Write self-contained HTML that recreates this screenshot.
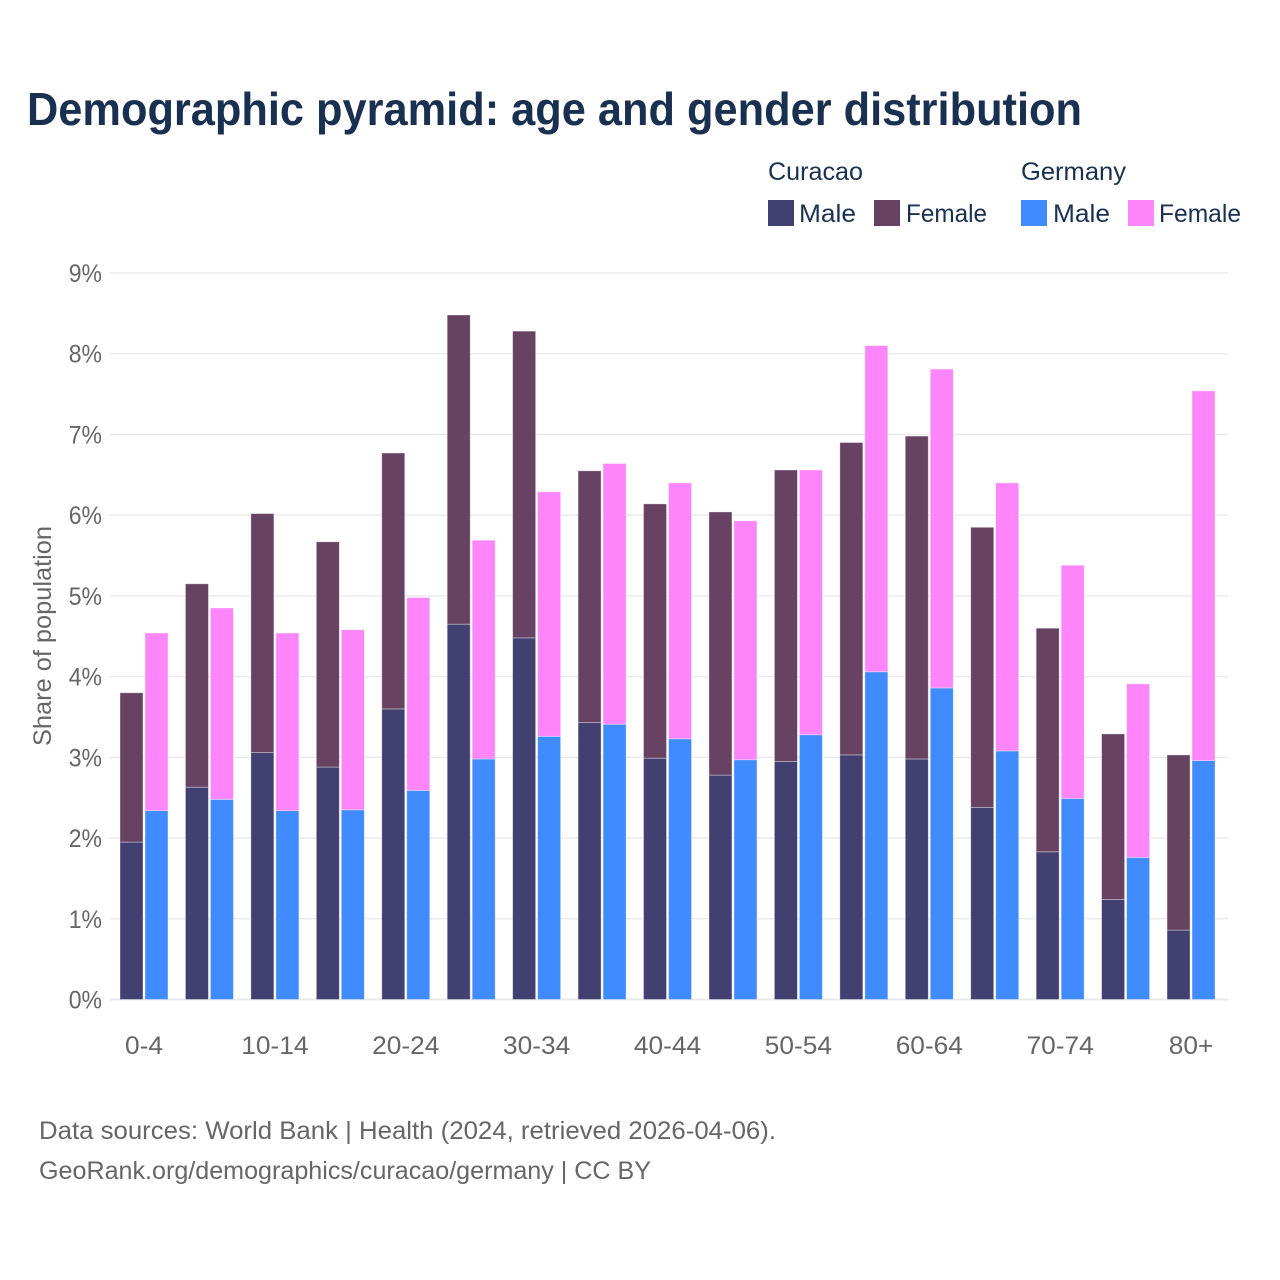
<!DOCTYPE html>
<html lang="en">
<head>
<meta charset="utf-8">
<title>Demographic pyramid</title>
<style>
html,body{margin:0;padding:0;background:#fff;}
svg{display:block;font-family:"Liberation Sans",sans-serif;}
.ink{fill:#1a3050;font-size:25px;}
.muted{fill:#666;font-size:25px;}
</style>
</head>
<body>
<svg id="chart" width="1280" height="1280" viewBox="0 0 1280 1280" xmlns="http://www.w3.org/2000/svg">
  <rect x="0" y="0" width="1280" height="1280" fill="#fff"/>
  <text x="27" y="125" font-size="46" font-weight="700" fill="#1a3050" textLength="1055" lengthAdjust="spacingAndGlyphs">Demographic pyramid: age and gender distribution</text>

  <g>
    <text class="ink" x="768" y="180" textLength="95" lengthAdjust="spacingAndGlyphs">Curacao</text>
    <text class="ink" x="1021" y="180" textLength="105" lengthAdjust="spacingAndGlyphs">Germany</text>
    <rect x="768" y="200" width="26" height="26" fill="#414070"/>
    <text class="ink" x="799" y="222" textLength="57" lengthAdjust="spacingAndGlyphs">Male</text>
    <rect x="874" y="200" width="26" height="26" fill="#674263"/>
    <text class="ink" x="906" y="222" textLength="81" lengthAdjust="spacingAndGlyphs">Female</text>
    <rect x="1021" y="200" width="26" height="26" fill="#408bff"/>
    <text class="ink" x="1053" y="222" textLength="57" lengthAdjust="spacingAndGlyphs">Male</text>
    <rect x="1128" y="200" width="26" height="26" fill="#ff85fa"/>
    <text class="ink" x="1159" y="222" textLength="82" lengthAdjust="spacingAndGlyphs">Female</text>
  </g>

  <g id="grid"></g>
  <g id="bars"></g>
  <g id="yticks"></g>
  <g id="xticks"></g>

  <text class="muted" transform="translate(51,636) rotate(-90)" text-anchor="middle" textLength="220" lengthAdjust="spacingAndGlyphs">Share of population</text>

  <text class="muted" x="39" y="1139" textLength="737" lengthAdjust="spacingAndGlyphs">Data sources: World Bank | Health (2024, retrieved 2026-04-06).</text>
  <text class="muted" x="39" y="1179" textLength="612" lengthAdjust="spacingAndGlyphs">GeoRank.org/demographics/curacao/germany | CC BY</text>
</svg>
<script>
const categories = ["0-4","5-9","10-14","15-19","20-24","25-29","30-34","35-39","40-44","45-49","50-54","55-59","60-64","65-69","70-74","75-79","80+"];
const curacaoMale = [1.95,2.63,3.06,2.88,3.60,4.65,4.48,3.43,2.99,2.78,2.95,3.03,2.98,2.38,1.83,1.24,0.86];
const curacaoFemale = [1.85,2.52,2.96,2.79,3.17,3.83,3.80,3.12,3.15,3.26,3.61,3.87,4.00,3.47,2.77,2.05,2.17];
const germanyMale = [2.34,2.48,2.34,2.35,2.59,2.98,3.26,3.41,3.23,2.97,3.28,4.06,3.86,3.08,2.49,1.76,2.96];
const germanyFemale = [2.20,2.37,2.20,2.23,2.39,2.71,3.03,3.23,3.17,2.96,3.28,4.04,3.95,3.32,2.89,2.15,4.58];
const yTickValues = [0,1,2,3,4,5,6,7,8,9];

const NS = "http://www.w3.org/2000/svg";
const plotLeft = 110, plotRight = 1228;
const yZero = 999.5, pxPerUnit = 80.72;
const groupStart = 144, groupStep = 65.44, barWidth = 23;

function yScale(v) { return yZero - v * pxPerUnit; }
function xCenter(i) { return groupStart + i * groupStep; }

function make(tag, attrs, parent) {
  const el = document.createElementNS(NS, tag);
  for (const k in attrs) el.setAttribute(k, attrs[k]);
  parent.appendChild(el);
  return el;
}

const gridG = document.getElementById("grid");
const barsG = document.getElementById("bars");
const yG = document.getElementById("yticks");
const xG = document.getElementById("xticks");

yTickValues.forEach(function (v) {
  const line = make("line", {x1: plotLeft, x2: plotRight, y1: yScale(v), y2: yScale(v), stroke: "#e9e9e9", "stroke-width": v === 0 ? 2 : 1.3}, gridG);
  
  
  const label = make("text", {x: 102, y: yScale(v) + 9, "text-anchor": "end", class: "muted"}, yG);
  
  
  label.textContent = v + "%";
  label.setAttribute("textLength", label.getComputedTextLength() * 0.92);
  label.setAttribute("lengthAdjust", "spacingAndGlyphs");
});

function drawBar(x, low, high, fill, parent) {
  const bar = make("rect", {
    x: x, width: barWidth,
    y: yScale(high), height: yScale(low) - yScale(high),
    fill: fill, stroke: "rgba(255,255,255,0.45)", "stroke-width": 0.8
  }, parent);
  return bar;
}

categories.forEach(function (cat, i) {
  const c = xCenter(i);
  const left = c - 24, right = c + 1;
  const cm = curacaoMale[i], cf = curacaoFemale[i], gm = germanyMale[i], gf = germanyFemale[i];

  const b1 = drawBar(left, 0, cm, "#414070", barsG);
  
  
  const b2 = drawBar(left, cm, cm + cf, "#674263", barsG);
  
  
  const b3 = drawBar(right, 0, gm, "#408bff", barsG);
  
  
  const b4 = drawBar(right, gm, gm + gf, "#ff85fa", barsG);
  
  

  if (i % 2 === 0) {
    const label = make("text", {x: c, y: 1054, "text-anchor": "middle", class: "muted"}, xG);
    
    
    label.textContent = cat;
    label.setAttribute("textLength", label.getComputedTextLength() * 1.05);
    label.setAttribute("lengthAdjust", "spacingAndGlyphs");
  }
});
</script>
</body>
</html>
